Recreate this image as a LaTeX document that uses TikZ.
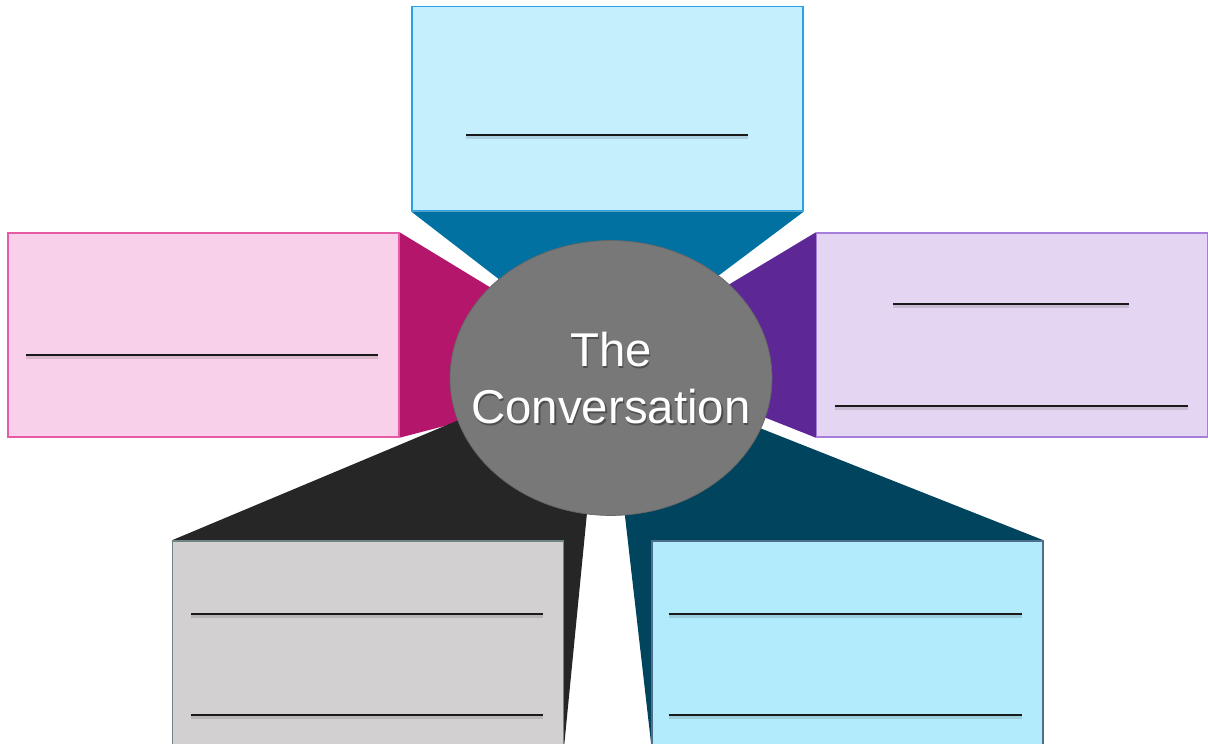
\documentclass[tikz,border=0pt]{standalone}
\usepackage{fontspec}
\usepackage{tikz}
\usetikzlibrary{shapes.geometric,backgrounds}
\newfontfamily\talkfont{Liberation Sans}

% box and callout colours
\definecolor{skyfill}{HTML}{C6EFFD}
\definecolor{skyline}{HTML}{2AA0EA}
\definecolor{skyarm}{HTML}{0071A1}
\definecolor{rosefill}{HTML}{F9D0EA}
\definecolor{roseline}{HTML}{E55BA5}
\definecolor{rosearm}{HTML}{B3166A}
\definecolor{lilacfill}{HTML}{E4D6F2}
\definecolor{lilacline}{HTML}{A77DDB}
\definecolor{lilacarm}{HTML}{5E2796}
\definecolor{stonefill}{HTML}{D3D0D1}
\definecolor{stoneline}{HTML}{6F8585}
\definecolor{stonearm}{HTML}{262626}
\definecolor{icefill}{HTML}{B2EBFC}
\definecolor{iceline}{HTML}{4F6E8C}
\definecolor{icearm}{HTML}{00445E}
\definecolor{hubgray}{HTML}{787878}

\begin{document}
\begin{tikzpicture}[
    x=0.02cm, y=-0.02cm,
    card/.style={draw, line width=0.8pt, inner sep=0pt,
      minimum width=7.82cm, minimum height=4.08cm},
    hub/.style={ellipse, fill=hubgray, draw=hubgray!85!black,
      inner sep=0pt, minimum width=6.44cm, minimum height=5.5cm},
    hubtext/.style={align=center, text=white,
      font=\talkfont\fontsize{27}{32}\selectfont},
    rule/.style={line width=1.2pt, black!90},
    ruleshade/.style={line width=2.4pt, black, opacity=0.12},
  ]
  \useasboundingbox (0,0) rectangle (1208,744);

  % Boxes
  \node[card, fill=skyfill, draw=skyline, line width=1.1pt]
    (top) at (607.5,108.5) {};
  \node[card, fill=rosefill, draw=roseline] (left) at (203.5,335) {};
  \node[card, fill=lilacfill, draw=lilacline] (right) at (1012,335) {};
  \node[card, fill=stonefill, draw=stoneline] (botleft) at (368,643) {};
  \node[card, fill=icefill, draw=iceline] (botright) at (847.5,643) {};

  % Tips of the callouts, hidden under the ellipse
  \coordinate (tip-top) at (605,361);
  \coordinate (tip-left) at (636,376);
  \coordinate (tip-right) at (610,356);
  \coordinate (tip-bl) at (602,360);
  \coordinate (tip-br) at (608,368);

  % Callout wedges behind everything
  \begin{pgfonlayer}{background}
    \fill[skyarm] (top.south west) -- (top.south east) -- (tip-top) -- cycle;
    \fill[rosearm] (left.north east) -- (tip-left) -- (left.south east) -- cycle;
    \fill[lilacarm] (right.north west) -- (tip-right) -- (right.south west) -- cycle;
    \fill[stonearm] (botleft.north west) -- (tip-bl) -- (botleft.south east) -- cycle;
    \fill[icearm] (botright.north east) -- (tip-br) -- (botright.south west) -- cycle;
  \end{pgfonlayer}

  % Write-in lines
  \foreach \ya/\xa/\xb in {135/466/748, 355/26/378, 304/893/1129,
      406/835/1188, 614/191/543, 715/191/543, 614/669/1022, 715/669/1022} {
    \draw[ruleshade] (\xa,\ya+2) -- (\xb,\ya+2);
    \draw[rule] (\xa,\ya) -- (\xb,\ya);
  }

  % Centre ellipse
  \node[hub] (talk) at (611,378) {};
  \node[hubtext, text=black, opacity=0.35] at (612.5,380) {The\\Conversation};
  \node[hubtext] (title) at (talk) {The\\Conversation};

\end{tikzpicture}
\end{document}
